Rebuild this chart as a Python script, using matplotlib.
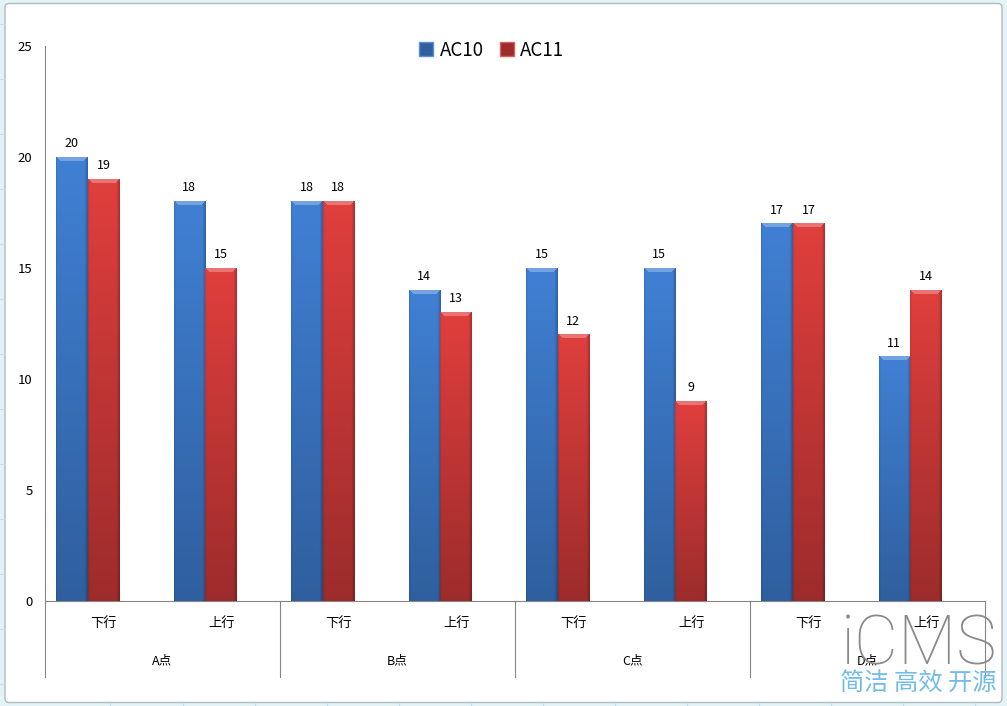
"""Grouped bar chart of AC10 / AC11 counts per point and direction."""

import matplotlib

matplotlib.use("Agg")

import matplotlib.pyplot as plt
import numpy as np
from matplotlib.patches import FancyBboxPatch, Patch

plt.rcParams["font.family"] = ["Noto Sans CJK SC", "DejaVu Sans"]

directions = ["下行", "上行", "下行", "上行", "下行", "上行", "下行", "上行"]
points = ["A点", "B点", "C点", "D点"]
ac10 = [20, 18, 18, 14, 15, 15, 17, 11]
ac11 = [19, 15, 18, 13, 12, 9, 17, 14]
y_ticks = [0, 5, 10, 15, 20, 25]

BAR_WIDTH = 0.268
BLUE_TOP, BLUE_BOTTOM = "#4080d4", "#2f5f9e"
RED_TOP, RED_BOTTOM = "#e03f3d", "#9c2c2b"
AXIS_GRAY = "#868686"


def _shade_bar(ax, bar, top_color, bottom_color):
    """Paint the glassy bevel over one bar, clipped to the bar itself."""
    x0, width, height = bar.get_x(), bar.get_width(), bar.get_height()
    rows = max(int(height * 22.2), 2)
    cols = 32
    top = np.array(matplotlib.colors.to_rgb(top_color))
    bottom = np.array(matplotlib.colors.to_rgb(bottom_color))
    ramp = np.linspace(0, 1, rows)[:, None, None]
    image = (top * (1 - ramp) + bottom * ramp) * np.ones((rows, cols, 3))

    # darker right edge, slightly darker left edge
    across = np.linspace(0, 1, cols)
    profile = 1 - 0.22 * np.clip((across - 0.9) / 0.1, 0, 1) - 0.08 * np.clip((0.05 - across) / 0.05, 0, 1)
    image = image * profile[None, :, None]

    # light cap on top of the bar, narrowing downwards
    for row in range(min(4, rows)):
        inset = row + 1
        image[row, inset:cols - inset] = image[row, inset:cols - inset] * 0.72 + 0.28
    ax.imshow(
        np.clip(image, 0, 1),
        extent=(x0, x0 + width, 0, height),
        aspect="auto",
        origin="upper",
        interpolation="bilinear",
        zorder=3,
        clip_path=bar,
    )


fig = plt.figure(figsize=(10.07, 7.06), dpi=100, facecolor="#e4f3f5")

# worksheet grid behind the chart frame
for y_px in [24, 79, 134, 189, 244, 299, 354, 409, 464, 519, 574, 629, 684]:
    fig.add_artist(plt.Line2D([0, 4 / 1007], [1 - y_px / 706] * 2, color="#bfe3e8", lw=0.8))
for x_px in [110, 183, 255, 327, 399, 471, 543, 615, 687, 759, 831, 903, 975]:
    fig.add_artist(plt.Line2D([x_px / 1007] * 2, [0, 3 / 706], color="#bfe3e8", lw=0.8))

frame = FancyBboxPatch(
    (0.05, 0.035),
    9.97,
    6.99,
    boxstyle="round,pad=0,rounding_size=0.04",
    transform=fig.dpi_scale_trans,
    facecolor="white",
    edgecolor="#aebcc0",
    linewidth=1.0,
    zorder=-1,
)
fig.add_artist(frame)

ax = fig.add_axes([45 / 1007, 105 / 706, 940 / 1007, 555 / 706], facecolor="none")
x = np.arange(len(directions))

bars_ac10 = ax.bar(x - 0.137 - BAR_WIDTH / 2, ac10, BAR_WIDTH, color=BLUE_BOTTOM, zorder=2, label="AC10")
bars_ac11 = ax.bar(x - 0.137 + BAR_WIDTH / 2, ac11, BAR_WIDTH, color=RED_BOTTOM, zorder=2, label="AC11")

for bar in bars_ac10:
    _shade_bar(ax, bar, BLUE_TOP, BLUE_BOTTOM)
for bar in bars_ac11:
    _shade_bar(ax, bar, RED_TOP, RED_BOTTOM)

ax.bar_label(bars_ac10, padding=5, fontsize=9)
ax.bar_label(bars_ac11, padding=5, fontsize=9)

ax.set_xlim(-0.5, len(directions) - 0.5)
ax.set_ylim(0, 25)
ax.set_yticks(y_ticks)
ax.set_xticks(x, labels=directions)
ax.tick_params(axis="y", length=0, pad=9, labelsize=9.5)
ax.tick_params(axis="x", length=0, pad=11.5, labelsize=9.5)

for side in ["top", "right", "left"]:
    ax.spines[side].set_visible(False)
ax.spines["bottom"].set_color(AXIS_GRAY)
ax.spines["bottom"].set_linewidth(0.8)

# multi-level category axis: separators and the point labels under the directions
divider_transform = ax.get_xaxis_transform()
ax.plot([-0.5, -0.5], [-0.137, 1], color=AXIS_GRAY, lw=0.8, transform=divider_transform, clip_on=False)
for boundary in np.arange(1.5, len(directions), 2):
    ax.plot([boundary, boundary], [-0.137, 0], color=AXIS_GRAY, lw=0.8, transform=divider_transform, clip_on=False)
for index, point in enumerate(points):
    ax.text(index * 2 + 0.5, -0.107, point, transform=divider_transform, ha="center", va="center", fontsize=9)

ax.legend(
    handles=[
        Patch(facecolor=BLUE_BOTTOM, edgecolor="#5a8fd0", label="AC10"),
        Patch(facecolor=RED_BOTTOM, edgecolor="#e05a58", label="AC11"),
    ],
    loc="center",
    bbox_to_anchor=(0.4755, 0.9925),
    ncol=2,
    frameon=False,
    fontsize=13.5,
    handlelength=0.72,
    handleheight=0.72,
    handletextpad=0.35,
    columnspacing=0.9,
)

# site watermark, lower right corner
fig.text(918.5 / 1007, 1 - 646 / 706, "iCMS", family=["Roboto", "DejaVu Sans"], weight="light",
         fontsize=49, color="#8a8a8a", ha="center", va="center", zorder=10)
fig.text(918 / 1007, 1 - 684 / 706, "简洁 高效 开源", fontsize=17.5, color="#74bce8",
         ha="center", va="center", zorder=10)

fig.savefig("out.png", dpi=100)
plt.close(fig)
